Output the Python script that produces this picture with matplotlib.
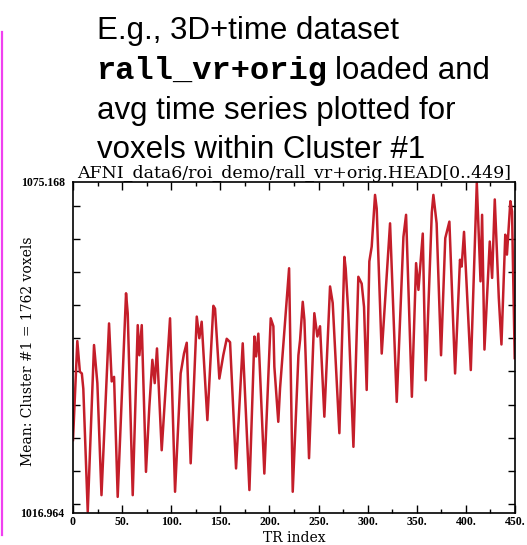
import matplotlib
matplotlib.use('Agg')
import matplotlib.pyplot as plt
from matplotlib.ticker import MultipleLocator, FixedLocator

# average time series for Cluster #1 (TR index, mean value)
tr = [0, 4.4, 7, 9, 10.5, 15, 21.4, 24.8, 29, 36.7, 39.4, 41.8, 45.5, 54, 55.7,
      58.7, 60.8, 65.9, 67.6, 70, 74.3, 77.7, 80.8, 83.2, 85.5, 90.3, 98.8,
      103.9, 109.6, 113, 115.8, 119.8, 126, 128.6, 131, 136.8, 142.9, 144.6,
      149, 153, 156.5, 159.9, 166, 172.8, 179.6, 184.7, 186.4, 188.7, 194.8,
      201.3, 204, 205, 209, 210.8, 220, 223.7, 229.5, 231.2, 233.9, 235.6,
      240.3, 245.7, 248.8, 251.5, 255.9, 261.7, 264.4, 271.2, 276.3, 277.6,
      280.3, 285.5, 290.5, 293.9, 296.3, 299, 301.7, 304.1, 307.5, 309.2,
      314.3, 322.8, 329.6, 336.4, 339.1, 345, 349.3, 351.7, 356.1, 359.1,
      365.3, 366.9, 370.2, 374.7, 379, 383.2, 389, 394, 395.7, 398.1, 405,
      411.1, 414.9, 416.5, 418.9, 424.3, 426.7, 429.4, 433.5, 436.2, 440.1,
      441.8, 445.3, 447, 447.8, 449.7]
mean_val = [1029.8, 1047.2, 1041.8, 1041.5, 1038.8, 1017.2, 1046.5, 1039.8,
            1020.1, 1050.3, 1040.1, 1040.9, 1019.8, 1055.6, 1052.1, 1033.3,
            1020.1, 1050.0, 1044.7, 1050.0, 1024.2, 1035.6, 1043.9, 1039.8,
            1045.9, 1028.0, 1051.2, 1020.7, 1041.5, 1045.0, 1046.9, 1025.7,
            1051.5, 1047.7, 1050.6, 1033.3, 1053.4, 1052.9, 1040.6, 1044.7,
            1047.6, 1047.0, 1024.8, 1046.8, 1021.0, 1048.0, 1044.5, 1048.5,
            1023.9, 1051.2, 1049.8, 1042.7, 1033.0, 1038.9, 1060.0, 1020.7,
            1044.7, 1047.4, 1054.1, 1050.9, 1026.6, 1052.1, 1048.0, 1049.8,
            1033.9, 1056.8, 1053.9, 1031.0, 1062.0, 1060.0, 1052.1, 1028.6,
            1058.5, 1057.3, 1053.2, 1038.6, 1061.2, 1063.8, 1072.9, 1070.5,
            1045.0, 1067.9, 1036.5, 1065.5, 1069.4, 1037.4, 1060.9, 1056.2,
            1066.1, 1040.3, 1069.8, 1072.9, 1067.9, 1044.7, 1065.3, 1068.2,
            1041.5, 1061.5, 1060.3, 1066.4, 1042.1, 1075.0, 1057.7, 1069.4,
            1045.7, 1064.7, 1058.3, 1072.1, 1054.8, 1046.6, 1065.9, 1062.4,
            1071.8, 1070.0, 1061.9, 1044.2]

y_min, y_max = 1016.964, 1075.168
x_major = [0, 50, 100, 150, 200, 250, 300, 350, 400, 450]
x_labels = ['0', '50.', '100.', '150.', '200.', '250.', '300.', '350.', '400.', '450.']

W, H = 527, 545
fig = plt.figure(figsize=(W / 100, H / 100), dpi=100)


def fx(px):
    return px / W


def fy(py):
    return 1 - py / H


# slide text above the graph
sans = 'Liberation Sans'
fig.text(fx(97), fy(39), 'E.g., 3D+time dataset', family=sans, fontsize=22.5, va='baseline')
fig.text(fx(97), fy(79), 'rall_vr+orig', family='Liberation Mono', weight='bold',
         fontsize=23, va='baseline')
fig.text(fx(335), fy(79), 'loaded and', family=sans, fontsize=22.5, va='baseline')
fig.text(fx(97), fy(119), 'avg time series plotted for', family=sans, fontsize=22.5, va='baseline')
fig.text(fx(97), fy(158), 'voxels within Cluster #1', family=sans, fontsize=22.5, va='baseline')

# magenta bar on the left edge of the slide
fig.add_artist(plt.Line2D([fx(1.5), fx(1.5)], [fy(32), fy(535)], color='#f040f0', lw=1.6))

ax = fig.add_axes([fx(73), fy(513), (515 - 73) / W, (513 - 182) / H])
ax.plot(tr, mean_val, color='#c41e2a', lw=1.8)
ax.set_xlim(0, 450)
ax.set_ylim(y_min, y_max)

ax.xaxis.set_major_locator(FixedLocator(x_major))
ax.set_xticklabels(x_labels)
ax.xaxis.set_minor_locator(MultipleLocator(25))
ax.yaxis.set_major_locator(FixedLocator([y_min, y_max]))
ax.set_yticklabels(['1016.964', '1075.168'])
ax.yaxis.set_minor_locator(MultipleLocator((y_max - y_min) / 10))
ax.tick_params(which='both', direction='in', top=True, right=True, width=1)
ax.tick_params(axis='x', which='major', length=6, labelsize=8.5, pad=2)
ax.tick_params(axis='x', which='minor', length=3)
ax.tick_params(axis='y', which='major', length=0, labelsize=8.5, pad=6)
ax.tick_params(axis='y', which='minor', length=5)
for lab in ax.get_xticklabels() + ax.get_yticklabels():
    lab.set_family('Liberation Serif')
    lab.set_weight('bold')
for s in ax.spines.values():
    s.set_linewidth(1.2)

ax.set_title('AFNI_data6/roi_demo/rall_vr+orig.HEAD[0..449]', family='DejaVu Serif',
             fontsize=12.5, pad=3)
ax.set_xlabel('TR index', family='DejaVu Serif', fontsize=10, labelpad=2)
ax.set_ylabel('Mean: Cluster #1 = 1762 voxels', family='DejaVu Serif', fontsize=10)
ax.yaxis.set_label_coords(-0.086, 0.49)

fig.savefig('out.png', dpi=100, facecolor='white')
